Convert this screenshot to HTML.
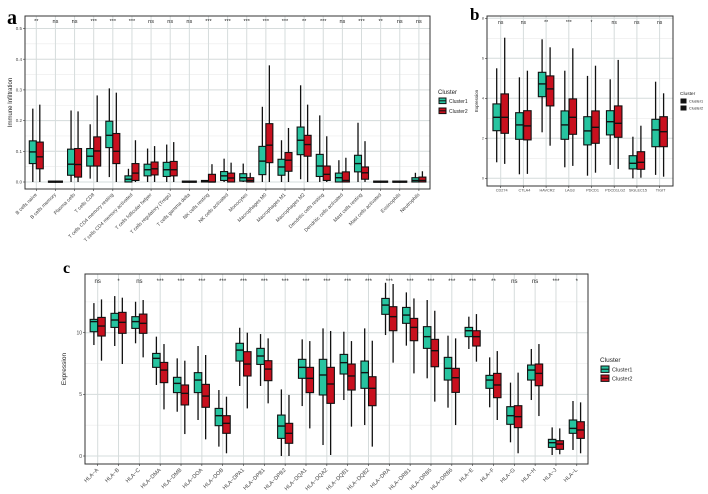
<!DOCTYPE html>
<html><head><meta charset="utf-8">
<style>
html,body{margin:0;padding:0;background:#fff;width:708px;height:494px;overflow:hidden}
svg{display:block;font-family:"Liberation Sans",sans-serif}
</style></head>
<body>
<svg id="fig" width="708" height="494" viewBox="0 0 708 494" xmlns="http://www.w3.org/2000/svg">
<text x="7" y="24" font-family="Liberation Serif,serif" font-weight="bold" font-size="20">a</text>
<text x="470" y="20" font-family="Liberation Serif,serif" font-weight="bold" font-size="17">b</text>
<text x="63" y="273" font-family="Liberation Serif,serif" font-weight="bold" font-size="16">c</text>
</svg>
<script>
// ===== Panel A data =====
const catsA = ["B cells naive","B cells memory","Plasma cells","T cells CD8","T cells CD4 memory resting","T cells CD4 memory activated","T cells follicular helper","T cells regulatory (Tregs)","T cells gamma delta","NK cells resting","NK cells activated","Monocytes","Macrophages M0","Macrophages M1","Macrophages M2","Dendritic cells resting","Dendritic cells activated","Mast cells resting","Mast cells activated","Eosinophils","Neutrophils"];
const sigA = ["**","ns","ns","***","***","***","ns","ns","ns","***","***","***","***","***","**","***","ns","***","**","ns","ns"];
// [low,q1,med,q3,high]
const c1A = [[0,0.06,0.098,0.134,0.239],[0,0,0,0.003,0.003],[0,0.022,0.058,0.107,0.233],[0.011,0.052,0.084,0.109,0.188],[0.016,0.112,0.152,0.198,0.305],[0,0,0.009,0.02,0.043],[0,0.02,0.04,0.058,0.109],[0,0.018,0.04,0.064,0.122],[0,0,0,0.003,0.003],[0,0,0.002,0.005,0.005],[0,0.005,0.02,0.034,0.076],[0,0.003,0.014,0.027,0.06],[0,0.024,0.068,0.116,0.245],[0,0.022,0.049,0.074,0.136],[0.009,0.089,0.136,0.179,0.315],[0,0.018,0.052,0.09,0.217],[0,0,0.014,0.029,0.071],[0,0.033,0.06,0.087,0.193],[0,0,0,0.003,0.003],[0,0,0,0.003,0.003],[0,0,0.005,0.014,0.03]];
const c2A = [[0,0.043,0.082,0.13,0.252],[0,0,0,0.003,0.003],[0,0.016,0.057,0.109,0.23],[0,0.052,0.101,0.147,0.282],[0,0.06,0.1,0.158,0.291],[0,0.005,0.029,0.06,0.136],[0,0.023,0.043,0.065,0.117],[0,0.02,0.04,0.067,0.13],[0,0,0,0.003,0.003],[0,0,0,0.025,0.058],[0,0,0.013,0.029,0.063],[0,0,0.005,0.014,0.03],[0,0.063,0.12,0.19,0.38],[0,0.035,0.071,0.096,0.176],[0,0.084,0.122,0.152,0.252],[0,0.005,0.025,0.052,0.149],[0,0,0.005,0.033,0.079],[0,0.009,0.03,0.049,0.133],[0,0,0,0.003,0.003],[0,0,0,0.003,0.003],[0,0,0.005,0.016,0.035]];
const ticksA = [0,0.1,0.2,0.3,0.4,0.5];
const tickLabA = ["0.0","0.1","0.2","0.3","0.4","0.5"];

// ===== Panel B data =====
const catsB = ["CD274","CTLA4","HAVCR2","LAG3","PDCD1","PDCD1LG2","SIGLEC15","TIGIT"];
const sigB = ["ns","ns","**","***","*","ns","ns","ns"];
const c1B = [[0.8,2.38,3.05,3.72,5.5],[0.2,1.95,2.67,3.28,5.05],[2.3,4.08,4.72,5.3,6.95],[0.55,1.95,2.67,3.37,5.38],[0.13,1.67,2.37,3.08,5.12],[0.67,2.17,2.83,3.38,4.95],[0,0.47,0.75,1.13,2.08],[0.17,1.58,2.42,2.95,4.83]];
const c2B = [[0.72,2.25,3.05,4.22,7.03],[0.22,1.92,2.62,3.38,5.38],[1.63,3.62,4.47,5.12,6.55],[0.62,2.2,3.05,3.97,6.5],[0.28,1.75,2.55,3.37,5.63],[0.47,2.05,2.75,3.62,5.92],[0.03,0.45,0.8,1.33,2.63],[0.08,1.58,2.33,3.08,4.25]];
const ticksB = [0,2,4,6,8];
const tickLabB = ["0","2","4","6","8"];

// ===== Panel C data =====
const catsC = ["HLA\u2212A","HLA\u2212B","HLA\u2212C","HLA\u2212DMA","HLA\u2212DMB","HLA\u2212DOA","HLA\u2212DOB","HLA\u2212DPA1","HLA\u2212DPB1","HLA\u2212DPB2","HLA\u2212DQA1","HLA\u2212DQA2","HLA\u2212DQB1","HLA\u2212DQB2","HLA\u2212DRA","HLA\u2212DRB1","HLA\u2212DRB5","HLA\u2212DRB6","HLA\u2212E","HLA\u2212F","HLA\u2212G","HLA\u2212H","HLA\u2212J","HLA\u2212L"];
const sigC = ["ns","*","ns","***","***","***","***","***","***","***","***","***","***","***","***","***","***","***","***","**","ns","ns","***","*"];
const c1C = [[9.0,10.08,10.9,11.08,12.4],[8.92,10.43,11.03,11.57,12.97],[9.14,10.35,10.9,11.3,12.51],[5.76,7.19,7.92,8.32,9.68],[3.59,5.14,5.89,6.38,7.92],[2.92,5.14,6.16,6.76,8.92],[0.76,2.46,3.27,3.86,5.35],[5.68,7.7,8.59,9.14,10.4],[5.68,7.43,8.11,8.73,9.89],[0,1.43,2.43,3.32,5.4],[4.05,6.3,7.19,7.84,9.46],[0.89,4.95,6.57,7.84,10.35],[4.54,6.65,7.57,8.24,10.08],[2.51,5.49,6.76,7.7,10.35],[9.81,11.49,12.24,12.78,14.05],[8.95,10.76,11.43,12.05,13.27],[6.3,8.73,9.68,10.49,12.65],[3.92,6.16,7.11,8.0,9.76],[8.68,9.68,10.16,10.43,11.3],[3.95,5.49,6.16,6.54,8.0],[1.11,2.57,3.27,4.0,5.95],[4.54,6.16,6.97,7.38,8.68],[0.08,0.7,1.08,1.35,2.32],[0.49,1.84,2.24,2.92,4.46]];
const c2C = [[7.73,9.73,10.54,11.24,12.7],[7.46,9.95,10.84,11.65,12.84],[8.0,9.95,10.76,11.51,12.65],[3.78,5.95,6.97,7.59,9.08],[1.78,4.14,5.08,5.76,7.73],[1.35,3.95,4.86,5.81,8.19],[0.22,1.84,2.65,3.27,4.81],[3.86,6.49,7.46,8.46,10.0],[4.27,6.11,7.05,7.73,9.54],[0,1.03,1.84,2.65,4.95],[2.24,5.14,6.3,7.19,9.32],[0.08,4.27,5.84,7.19,10.14],[2.38,5.35,6.49,7.46,9.32],[0.76,4.08,5.49,6.43,9.35],[7.57,10.16,11.3,12.11,13.95],[6.7,9.35,10.43,11.16,12.78],[4.41,7.24,8.54,9.46,11.78],[2.51,5.16,6.35,7.11,9.54],[7.65,8.92,9.68,10.16,11.51],[2.92,4.73,5.76,6.7,8.51],[0.22,2.3,3.19,4.08,6.76],[3.24,5.7,6.7,7.46,9.08],[0.14,0.54,0.97,1.24,2.24],[0.22,1.43,2.11,2.78,4.35]];
const ticksC = [0,5,10];
const tickLabC = ["0","5","10"];

const NS = "http://www.w3.org/2000/svg";
const svg = document.getElementById("fig");
const TEAL = "#27c4a0", RED = "#c8101e";
function mk(tag, attrs, parent) {
  const e = document.createElementNS(NS, tag);
  for (const k in attrs) e.setAttribute(k, attrs[k]);
  (parent || svg).appendChild(e);
  return e;
}

function panel(cfg) {
  const g = mk("g", {});
  
  
  const y = v => cfg.y0 - (v - cfg.vmin) * cfg.k;
  const x = i => cfg.xs + i * cfg.dx;
  // grid minor
  for (let v = cfg.vmin; v <= cfg.vmax + 1e-9; v += cfg.minor) {
    const yy = y(v);
    if (yy < cfg.top || yy > cfg.bottom) continue;
    mk("line", {x1: cfg.left, x2: cfg.right, y1: yy, y2: yy, stroke: "#ebebeb", "stroke-width": 0.6}, g);
  }
  cfg.ticks.forEach((v, i) => {
    const yy = y(v);
    mk("line", {x1: cfg.left, x2: cfg.right, y1: yy, y2: yy, stroke: "#d6dcdc", "stroke-width": 1}, g);
    mk("line", {x1: cfg.left - 2, x2: cfg.left, y1: yy, y2: yy, stroke: "#333", "stroke-width": 0.6}, g);
    const t = mk("text", {x: cfg.left - 3, y: yy + cfg.tfs * 0.35, "font-size": cfg.tfs, "text-anchor": "end", fill: "#444"}, g);
    t.textContent = cfg.tickLab[i];
    
    
  });
  cfg.cats.forEach((c, i) => {
    const xx = x(i);
    mk("line", {x1: xx, x2: xx, y1: cfg.top, y2: cfg.bottom, stroke: "#d6dcdc", "stroke-width": 1}, g);
  });
  // boxes
  [[cfg.c1, -1, TEAL], [cfg.c2, 1, RED]].forEach(([data, s, col]) => {
    data.forEach((d, i) => {
      const cx = x(i) + s * cfg.off;
      const bg = mk("g", {}, g);
      
      
      mk("line", {x1: cx, x2: cx, y1: y(d[4]), y2: y(d[0]), stroke: "#111", "stroke-width": 1.3}, bg);
      const h = Math.max(y(d[1]) - y(d[3]), 1.2);
      mk("rect", {x: cx - cfg.bw / 2, y: y(d[3]), width: cfg.bw, height: h, fill: col, stroke: "#111", "stroke-width": 1.1}, bg);
      mk("line", {x1: cx - cfg.bw / 2, x2: cx + cfg.bw / 2, y1: y(d[2]), y2: y(d[2]), stroke: "#111", "stroke-width": 1.4}, bg);
    });
  });
  // border
  mk("rect", {x: cfg.left, y: cfg.top, width: cfg.right - cfg.left, height: cfg.bottom - cfg.top, fill: "none", stroke: "#333", "stroke-width": 1}, g);
  // x ticks and labels
  cfg.cats.forEach((c, i) => {
    const xx = x(i);
    mk("line", {x1: xx, x2: xx, y1: cfg.bottom, y2: cfg.bottom + 2, stroke: "#333", "stroke-width": 0.6}, g);
    const ly = cfg.bottom + 3 + cfg.xfs * 0.6;
    const t = mk("text", {x: xx + 1, y: ly, "font-size": cfg.xfs, "text-anchor": cfg.rot ? "end" : "middle", fill: "#444", transform: cfg.rot ? `rotate(-45 ${xx + 1} ${ly})` : ""}, g);
    t.textContent = c;
    
    
    const s = mk("text", {x: xx, y: cfg.top + cfg.sigdy, "font-size": cfg.sfs, "text-anchor": "middle", fill: "#222"}, g);
    s.textContent = cfg.sig[i];
    
    
  });
  const yl = mk("text", {x: cfg.ylx, y: (cfg.top + cfg.bottom) / 2, "font-size": cfg.ylfs, "text-anchor": "middle", fill: "#222", transform: `rotate(-90 ${cfg.ylx} ${(cfg.top + cfg.bottom) / 2})`}, g);
  yl.textContent = cfg.ylab;
  
  
  // legend
  const lg = mk("g", {}, g);
  
  
  const L = cfg.leg;
  const lt = mk("text", {x: L.x, y: L.y, "font-size": L.fs + 1, fill: "#222"}, lg);
  lt.textContent = "Cluster";
  ["Cluster1", "Cluster2"].forEach((n, j) => {
    const yy = L.y + 4 + j * L.gap;
    mk("rect", {x: L.x + 1, y: yy, width: L.ks, height: L.ks * 0.8, fill: L.dark ? "#111" : (j ? RED : TEAL), stroke: "#111", "stroke-width": 1}, lg);
    if (!L.dark) mk("line", {x1: L.x + 1, x2: L.x + 1 + L.ks, y1: yy + L.ks * 0.4, y2: yy + L.ks * 0.4, stroke: "#111", "stroke-width": 1}, lg);
    const t = mk("text", {x: L.x + L.ks + 4, y: yy + L.ks * 0.7, "font-size": L.fs, fill: "#222"}, lg);
    t.textContent = n;
    
    
  });
}

panel({name: "panel-a-chart", cats: catsA, sig: sigA, c1: c1A, c2: c2A, ticks: ticksA, tickLab: tickLabA,
  left: 25, right: 430, top: 16, bottom: 189, y0: 182, vmin: 0, vmax: 0.55, k: 307, minor: 0.05,
  xs: 36.3, dx: 19.13, off: 3.5, bw: 7, tfs: 4.5, xfs: 5, sfs: 5.5, sigdy: 7, rot: true,
  ylab: "Immune Infiltration", ylx: 12, ylfs: 6,
  leg: {x: 438, y: 94, fs: 5, ks: 7, gap: 10, dark: false}});
panel({name: "panel-b-chart", cats: catsB, sig: sigB, c1: c1B, c2: c2B, ticks: ticksB, tickLab: tickLabB,
  left: 487, right: 673, top: 16, bottom: 186, y0: 178.3, vmin: 0, vmax: 8, k: 20, minor: 1,
  xs: 500.7, dx: 22.7, off: 4, bw: 7.5, tfs: 3.8, xfs: 3.8, sfs: 5, sigdy: 8, rot: false,
  ylab: "Expression", ylx: 478, ylfs: 4.5,
  leg: {x: 680, y: 95, fs: 3.8, ks: 5, gap: 7, dark: true}});
panel({name: "panel-c-chart", cats: catsC, sig: sigC, c1: c1C, c2: c2C, ticks: ticksC, tickLab: tickLabC,
  left: 85, right: 588, top: 274, bottom: 464, y0: 456, vmin: 0, vmax: 15, k: 12.33, minor: 2.5,
  xs: 97.7, dx: 20.83, off: 3.8, bw: 7.5, tfs: 5, xfs: 5.5, sfs: 6, sigdy: 9, rot: true,
  ylab: "Expression", ylx: 66, ylfs: 6.5,
  leg: {x: 600, y: 362, fs: 5.5, ks: 8, gap: 9, dark: false}});
</script>
</body></html>
